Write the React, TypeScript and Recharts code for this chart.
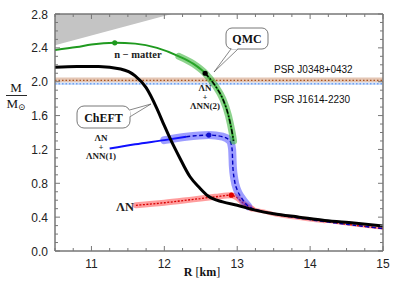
import React from 'react';
import { ComposedChart, Line, Area, Scatter, XAxis, YAxis, ReferenceArea, ReferenceLine } from 'recharts';

// radius [km] / mass [Msun]
const chiR = [10.5, 10.8, 11.1, 11.4, 11.6, 11.75, 11.9, 12.0, 12.09, 12.2, 12.35, 12.48, 12.6, 12.8, 13.0, 13.26, 13.5, 13.85, 14.2, 14.6, 15.0];
const chiM = [2.17, 2.18, 2.18, 2.15, 2.07, 1.93, 1.68, 1.48, 1.31, 1.12, 0.88, 0.75, 0.65, 0.58, 0.54, 0.48, 0.44, 0.4, 0.36, 0.33, 0.295];

const greenR = [10.5, 10.8, 11.0, 11.32, 11.6, 11.9, 12.2, 12.4, 12.56, 12.7, 12.8, 12.88, 12.93, 12.95];
const greenM = [2.375, 2.41, 2.44, 2.46, 2.45, 2.4, 2.3, 2.21, 2.1, 1.95, 1.8, 1.6, 1.4, 1.3];

const blueR = [11.25, 11.6, 12.0, 12.3, 12.61, 12.8, 12.9, 12.93, 12.94, 12.96, 13.0, 13.05, 13.15, 13.3, 13.6, 14.0, 14.5, 15.0];
const blueM = [1.21, 1.26, 1.31, 1.35, 1.37, 1.35, 1.3, 1.2, 1.0, 0.85, 0.72, 0.64, 0.53, 0.48, 0.425, 0.37, 0.315, 0.265];

const redR = [11.61, 12.0, 12.4, 12.7, 12.92, 13.0, 13.1, 13.2, 13.4, 13.5, 13.8, 14.2, 14.6, 15.0];
const redM = [0.54, 0.57, 0.61, 0.64, 0.66, 0.63, 0.55, 0.5, 0.46, 0.435, 0.395, 0.35, 0.305, 0.265];

const dotR = [11.32, 12.56, 12.61, 12.92];
const dotM = [2.46, 2.1, 1.37, 0.66];
const dotColors = ['#1f9a1f', '#000', '#1010d0', '#e00000'];

// causality-excluded region: lower edge, upper edge
const grayR = [10.5, 12.1];
const grayLo = [2.43, 2.8];
const grayHi = [2.8, 2.8];

const psrHeavy = [1.99, 2.017, 2.05];
const psrLight = [1.96, 1.976, 1.99];

const xTicks = [10.5, 10.75, 11, 11.25, 11.5, 11.75, 12, 12.25, 12.5, 12.75, 13, 13.25, 13.5, 13.75, 14, 14.25, 14.5, 14.75, 15];
const yTicks = [0, 0.1, 0.2, 0.3, 0.4, 0.5, 0.6, 0.7, 0.8, 0.9, 1.0, 1.1, 1.2, 1.3, 1.4, 1.5, 1.6, 1.7, 1.8, 1.9, 2.0, 2.1, 2.2, 2.3, 2.4, 2.5, 2.6, 2.7, 2.8];

const pts = (rs: number[], ms: number[], from = -Infinity, to = Infinity) =>
  rs.map((r, i) => ({ r, m: ms[i] })).filter((p) => p.r >= from && p.r <= to);

const grayData = grayR.map((r, i) => ({ r, band: [grayLo[i], grayHi[i]] }));
const dots = dotR.map((r, i) => ({ r, m: dotM[i], c: dotColors[i] }));
const frame = [{ r: 10.5, m: 0 }, { r: 15, m: 2.8 }];

const sans = 'Liberation Sans, Arial, sans-serif';
const serif = 'Liberation Serif, DejaVu Serif, serif';

const isMajorY = (v: number) => Math.round(v * 10) % 4 === 0;

const BottomTick = (props: any) => {
  const { x, y, payload } = props;
  const major = Number.isInteger(payload.value);
  return (
    <g>
      <line x1={x} x2={x} y1={y} y2={y - (major ? 5 : 3)} stroke="#777" />
      {major && payload.value > 10.5 && (
        <text x={x} y={y + 17} textAnchor="middle" fontFamily={sans} fontSize={12} fill="#222">
          {payload.value}
        </text>
      )}
    </g>
  );
};

const TopTick = (props: any) => {
  const { x, y, payload } = props;
  const major = Number.isInteger(payload.value);
  return <line x1={x} x2={x} y1={y} y2={y + (major ? 5 : 3)} stroke="#777" />;
};

const LeftTick = (props: any) => {
  const { x, y, payload } = props;
  const major = isMajorY(payload.value);
  return (
    <g>
      <line x1={x} x2={x + (major ? 5 : 3)} y1={y} y2={y} stroke="#777" />
      {major && (
        <text x={x - 7} y={y + 4.5} textAnchor="end" fontFamily={sans} fontSize={12} fill="#222">
          {payload.value.toFixed(1)}
        </text>
      )}
    </g>
  );
};

const RightTick = (props: any) => {
  const { x, y, payload } = props;
  const major = isMajorY(payload.value);
  return <line x1={x} x2={x - (major ? 5 : 3)} y1={y} y2={y} stroke="#777" />;
};

const Dot = (props: any) => <circle cx={props.cx} cy={props.cy} r={2.6} fill={props.payload.c} />;

export default function App() {
  return (
    <div style={{ position: 'absolute', left: 0, top: 0, width: 399, height: 299, background: '#fff' }}>
      <ComposedChart width={399} height={299} data={grayData} margin={{ top: 13, right: 15, bottom: 18, left: 0 }}>
        <XAxis dataKey="r" type="number" domain={[10.5, 15]} ticks={xTicks} allowDataOverflow interval={0}
          height={30} tickSize={0} tickMargin={0} tick={<BottomTick />} stroke="#777" />
        <XAxis xAxisId="t" orientation="top" dataKey="r" type="number" domain={[10.5, 15]} ticks={xTicks}
          allowDataOverflow interval={0} height={1} tickSize={0} tickMargin={0} tick={<TopTick />} stroke="#777" />
        <YAxis type="number" domain={[0, 2.8]} ticks={yTicks} allowDataOverflow interval={0} width={55}
          tickSize={0} tickMargin={0} tick={<LeftTick />} stroke="#777" />
        <YAxis yAxisId="r" orientation="right" type="number" domain={[0, 2.8]} ticks={yTicks} allowDataOverflow
          interval={0} width={1} tickSize={0} tickMargin={0} tick={<RightTick />} stroke="#777" />

        <Line xAxisId="t" yAxisId="r" data={frame} dataKey="m" stroke="none" dot={false} isAnimationActive={false} />

        <Area dataKey="band" type="linear" stroke="none" fill="#c4c4c4" fillOpacity={1} isAnimationActive={false} />

        <ReferenceArea y1={psrHeavy[0]} y2={psrHeavy[2]} fill="#e4c6b4" fillOpacity={1} stroke="none" />
        <ReferenceArea y1={psrLight[0]} y2={psrLight[2]} fill="#cfe0fb" fillOpacity={1} stroke="none" />
        <ReferenceLine y={psrHeavy[1]} stroke="#a8521f" strokeWidth={1.3} strokeDasharray="1.5 2" />
        <ReferenceLine y={psrLight[1]} stroke="#6d9ff0" strokeWidth={1.3} strokeDasharray="1.5 2" />

        {/* AN */}
        <Line data={pts(redR, redM, 11.6, 13.2)} dataKey="m" type="monotone" stroke="#ff3b3b" strokeOpacity={0.5}
          strokeWidth={6} strokeLinecap="round" dot={false} isAnimationActive={false} />
        <Line data={pts(redR, redM, 13.1, 14.2)} dataKey="m" type="monotone" stroke="#ff3b3b" strokeOpacity={0.45}
          strokeWidth={4} strokeLinecap="round" dot={false} isAnimationActive={false} />
        <Line data={pts(redR, redM, 14.2)} dataKey="m" type="monotone" stroke="#ff3b3b" strokeOpacity={0.45}
          strokeWidth={2.5} dot={false} isAnimationActive={false} />
        <Line data={pts(redR, redM)} dataKey="m" type="monotone" stroke="#d80000" strokeWidth={1.3}
          strokeDasharray="2 1.5" dot={false} isAnimationActive={false} />

        {/* AN + ANN(1) */}
        <Line data={pts(blueR, blueM, 11.9, 13.2)} dataKey="m" type="monotone" stroke="#3b3bff" strokeOpacity={0.5}
          strokeWidth={8} strokeLinecap="round" dot={false} isAnimationActive={false} />
        <Line data={pts(blueR, blueM, 11.25, 12.3)} dataKey="m" type="monotone" stroke="#1010ff" strokeWidth={2}
          dot={false} isAnimationActive={false} />
        <Line data={pts(blueR, blueM, 12.2)} dataKey="m" type="monotone" stroke="#0000c0" strokeWidth={1.4}
          strokeDasharray="4 2.5" dot={false} isAnimationActive={false} />

        {/* AN + ANN(2) */}
        <Line data={pts(greenR, greenM)} dataKey="m" type="monotone" stroke="#1f9a1f" strokeWidth={2}
          dot={false} isAnimationActive={false} />
        <Line data={pts(greenR, greenM, 12.1)} dataKey="m" type="monotone" stroke="#2fae2f" strokeOpacity={0.55}
          strokeWidth={7} strokeLinecap="round" dot={false} isAnimationActive={false} />
        <Line data={pts(greenR, greenM, 12.56)} dataKey="m" type="monotone" stroke="#000" strokeWidth={1.5}
          strokeDasharray="5 2 1.5 2" dot={false} isAnimationActive={false} />

        {/* ChEFT */}
        <Line data={pts(chiR, chiM)} dataKey="m" type="monotone" stroke="#000" strokeWidth={3}
          dot={false} isAnimationActive={false} />

        <Scatter data={dots} dataKey="m" shape={<Dot />} isAnimationActive={false} />

        <ReferenceArea x1={10.5} x2={15} y1={0} y2={2.8} fill="none" stroke="#777" strokeWidth={1} ifOverflow="visible" />
      </ComposedChart>

      <svg width={399} height={299} style={{ position: 'absolute', left: 0, top: 0, pointerEvents: 'none' }}>
        {/* y label */}
        <text x={16} y={92} textAnchor="middle" fontFamily={serif} fontSize={13} fill="#111">M</text>
        <line x1={6} x2={27} y1={95.5} y2={95.5} stroke="#111" strokeWidth={0.9} />
        <text x={16} y={108} textAnchor="middle" fontFamily={serif} fontSize={13} fill="#111">
          M<tspan fontSize={9} dy={2}>⊙</tspan>
        </text>
        {/* x label */}
        <text x={202} y={276} textAnchor="middle" fontFamily={serif} fontSize={12} fill="#111">
          <tspan fontWeight="bold">R</tspan>  [<tspan fontWeight="bold">km</tspan>]
        </text>

        <text x={274} y={73} fontFamily={sans} fontSize={10} fill="#111">PSR J0348+0432</text>
        <text x={274} y={103} fontFamily={sans} fontSize={10} fill="#111">PSR J1614-2230</text>

        <text x={138} y={58} textAnchor="middle" fontFamily={serif} fontSize={10.5} fontWeight="bold" fill="#222">n − matter</text>

        <g fontFamily={serif} fontSize={9} fontWeight="bold" fill="#222" textAnchor="middle">
          <text x={205} y={91}>ΛN</text>
          <text x={205} y={99.5} fontSize={8}>+</text>
          <text x={205} y={109}>ΛNN(2)</text>
          <text x={101} y={141}>ΛN</text>
          <text x={101} y={149.5} fontSize={8}>+</text>
          <text x={101} y={159}>ΛNN(1)</text>
        </g>
        <text x={125} y={211} textAnchor="middle" fontFamily={serif} fontSize={12.5} fontWeight="bold" fill="#222">ΛN</text>

        {/* QMC callout */}
        <path d="M 231 49 L 214 72 L 238 49" fill="#fff" stroke="#555" strokeWidth={0.7} />
        <rect x={226} y={28} width={42} height={21} rx={6} fill="#fff" stroke="#555" strokeWidth={0.8} />
        <path d="M 231.5 48.6 L 237.5 48.6" stroke="#fff" strokeWidth={1.5} />
        <text x={247} y={43} textAnchor="middle" fontFamily={serif} fontSize={12} fontWeight="bold" fill="#111">QMC</text>

        {/* ChEFT callout */}
        <path d="M 129.6 110 L 151 104 L 129.6 117" fill="#fff" stroke="#555" strokeWidth={0.7} />
        <rect x={77} y={106} width={53} height={22} rx={7} fill="#fff" stroke="#555" strokeWidth={0.8} />
        <path d="M 129.6 110.5 L 129.6 116.5" stroke="#fff" strokeWidth={1.5} />
        <text x={103.5} y={121.5} textAnchor="middle" fontFamily={serif} fontSize={12} fontWeight="bold" fill="#111">ChEFT</text>
      </svg>
    </div>
  );
}
